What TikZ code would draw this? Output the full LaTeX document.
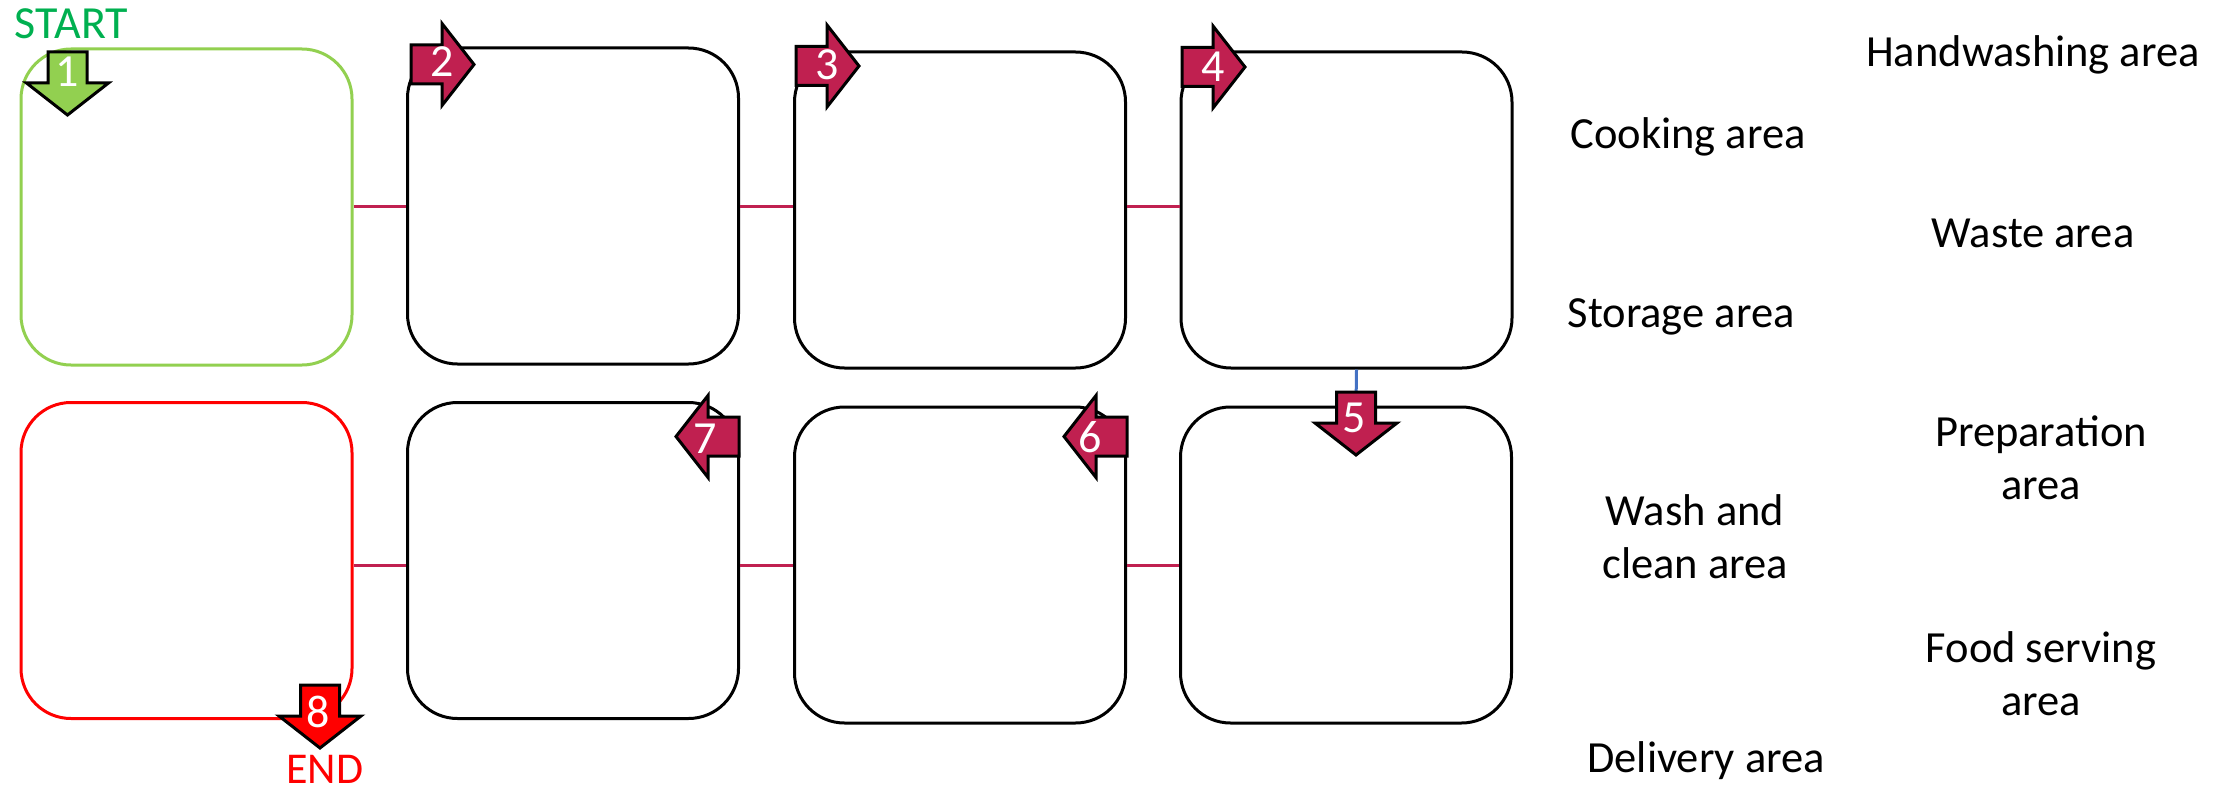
\documentclass[tikz,border=0pt]{standalone}
\usepackage{fontspec}
\setmainfont{Carlito}
\definecolor{berry}{RGB}{192,32,80}
\definecolor{leaf}{RGB}{146,208,80}
\definecolor{startgreen}{RGB}{0,176,80}
\definecolor{linkblue}{RGB}{68,114,196}

\tikzset{
  box/.style={draw=black, line width=3pt, rounded corners=50pt,
    minimum width=331pt, minimum height=316pt, inner sep=0pt},
  conn/.style={draw=berry, line width=3pt},
  blockarr/.style={draw=black, line width=3pt, line join=miter, fill=berry},
  num/.style={text=white, font=\fontsize{46}{50}\selectfont, inner sep=0pt},
  area/.style={font=\fontsize{44.5}{53}\selectfont, align=center,
    inner sep=0pt, anchor=base},
}

% block arrow pointing along +x before rotation: #1 extra style, #2 origin, #3 angle
\newcommand\blockarrow[3]{%
  \draw[blockarr,#1,shift={#2},rotate=#3]
    (0,-19.5) -- (31,-19.5) -- (31,-41) -- (63,0) -- (31,41) -- (31,19.5) -- (0,19.5) -- cycle;}

\begin{document}
\begin{tikzpicture}[x=1pt,y=-1pt]
\useasboundingbox (0,0) rectangle (2229,789);

% step boxes
\node[box, draw=leaf] (b1) at (186.5,207) {};
\node[box] (b2) at (573,206) {};
\node[box] (b3) at (960,210) {};
\node[box] (b4) at (1346.5,210) {};
\node[box] (b5) at (1346,565) {};
\node[box] (b6) at (960,565) {};
\node[box] (b7) at (573,560.5) {};
\node[box, draw=red] (b8) at (186.5,560.5) {};

% links between boxes
\draw[conn] (b1.east |- b2.east) -- (b2.west);
\draw[conn] (b2.east) -- (b3.west |- b2.east);
\draw[conn] (b3.east |- b2.east) -- (b4.west |- b2.east);
\draw[conn] (b8.east |- b6.west) -- (b7.west |- b6.west);
\draw[conn] (b7.east |- b6.west) -- (b6.west);
\draw[conn] (b6.east) -- (b5.west);
\draw[draw=linkblue, line width=3pt] ([xshift=10pt]b4.south) -- ([xshift=10pt]b5.north);

% numbered block arrows
\blockarrow{fill=leaf}{(67.5,52)}{-90}
\blockarrow{}{(411,64.5)}{0}
\blockarrow{}{(796,66)}{0}
\blockarrow{}{(1182,67)}{0}
\blockarrow{}{(1356,392)}{-90}
\blockarrow{}{(1127,436.5)}{180}
\blockarrow{}{(739,436.5)}{180}
\blockarrow{fill=red}{(320,685)}{-90}

\node[num] (n1) at (67,72) {1};
\node[num] (n2) at (442,62) {2};
\node[num] (n3) at (827,64.5) {3};
\node[num] (n4) at (1213,67) {4};
\node[num] (n5) at (1354,417.5) {5};
\node[num] (n6) at (1090,437.5) {6};
\node[num] (n7) at (705,438.5) {7};
\node[num] (n8) at (318,711.5) {8};

% start and end labels
\node[inner sep=0pt, anchor=base, text=startgreen, font=\fontsize{46}{50}\selectfont] (start) at (71.5,39) {START};
\node[inner sep=0pt, anchor=base, text=red, font=\fontsize{44}{50}\selectfont] (end) at (325,783) {END};

% area names (base anchor sits on the last line)
\node[area] (hand) at (2033,67) {Handwashing area};
\node[area] (cook) at (1688,149) {Cooking area};
\node[area] (waste) at (2033,247) {Waste area};
\node[area] (store) at (1681,327) {Storage area};
\node[area] (prep) at (2041,499) {Preparation\\area};
\node[area] (wash) at (1695,578) {Wash and\\clean area};
\node[area] (serve) at (2041,715) {Food serving\\area};
\node[area] (deliv) at (1706,772) {Delivery area};
\end{tikzpicture}
\end{document}
